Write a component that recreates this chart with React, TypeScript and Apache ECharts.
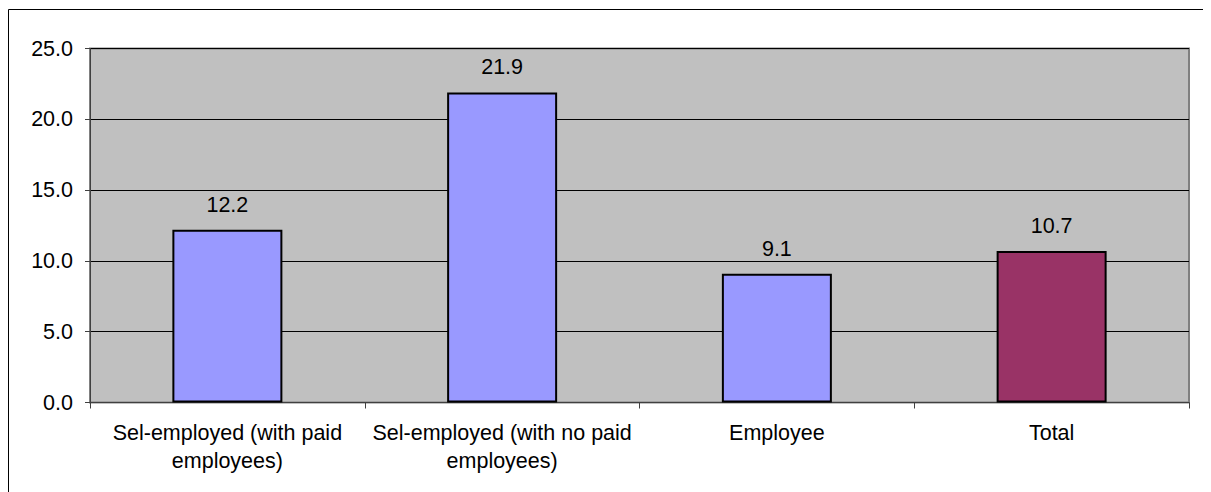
import React, { useEffect, useRef } from "react";
import * as echarts from "echarts";

const categories = [
  "Sel-employed (with paid\nemployees)",
  "Sel-employed (with no paid\nemployees)",
  "Employee",
  "Total",
];
const values = [12.2, 21.9, 9.1, 10.7];
const barColors = ["#9999FF", "#9999FF", "#9999FF", "#993366"];
const yTicks = { min: 0, max: 25, interval: 5 };

export default function App() {
  const ref = useRef<HTMLDivElement>(null);
  useEffect(() => {
    if (!ref.current) return;
    const chart = echarts.init(ref.current, undefined, { renderer: "svg" });
    const font = "'Liberation Sans', Arial, sans-serif";
    const fs = 21.5;
    chart.setOption({
      animation: false,
      backgroundColor: "#ffffff",
      textStyle: { fontFamily: font },
      graphic: [
        {
          type: "rect",
          shape: { x: 0.5, y: 1.5, width: 1200, height: 520 },
          style: { fill: "none", stroke: "#000", lineWidth: 1 },
          silent: true,
        },
        {
          type: "line",
          shape: { x1: 1201, y1: 1, x2: 1201, y2: 520 },
          style: { stroke: "#404040", lineWidth: 1.5 },
          silent: true,
        },
      ],
      grid: {
        left: 82,
        top: 40.5,
        right: 22,
        bottom: 89.5,
        show: true,
        backgroundColor: "#C0C0C0",
        borderColor: "#808080",
        borderWidth: 2,
      },
      xAxis: {
        type: "category",
        data: categories,
        axisLine: { show: true, lineStyle: { color: "#404040", width: 1 } },
        axisTick: { show: true, interval: 0, alignWithLabel: false, length: 6, lineStyle: { color: "#404040" } },
        axisLabel: {
          interval: 0,
          color: "#000",
          fontSize: fs,
          fontFamily: font,
          lineHeight: 28,
          margin: 16,
        },
      },
      yAxis: {
        type: "value",
        min: yTicks.min,
        max: yTicks.max,
        interval: yTicks.interval,
        axisLine: { show: true, lineStyle: { color: "#404040", width: 1 } },
        axisTick: { show: true, length: 5, lineStyle: { color: "#404040" } },
        axisLabel: {
          color: "#000",
          fontSize: fs,
          fontFamily: font,
          margin: 17,
          formatter: (v: number) => v.toFixed(1),
        },
        splitLine: { show: true, lineStyle: { color: "#000", width: 1 } },
      },
      series: [
        {
          type: "bar",
          barWidth: 110,
          data: values.map((v, i) => ({
            value: v,
            itemStyle: { color: barColors[i], borderColor: "#000", borderWidth: 2 },
          })),
          label: {
            show: true,
            position: "top",
            distance: 14,
            color: "#000",
            fontSize: fs,
            fontFamily: font,
            formatter: (p: any) => Number(p.value).toFixed(1),
          },
        },
      ],
    });
    return () => chart.dispose();
  }, []);
  return <div ref={ref} style={{ width: 1203, height: 484 }} />;
}
